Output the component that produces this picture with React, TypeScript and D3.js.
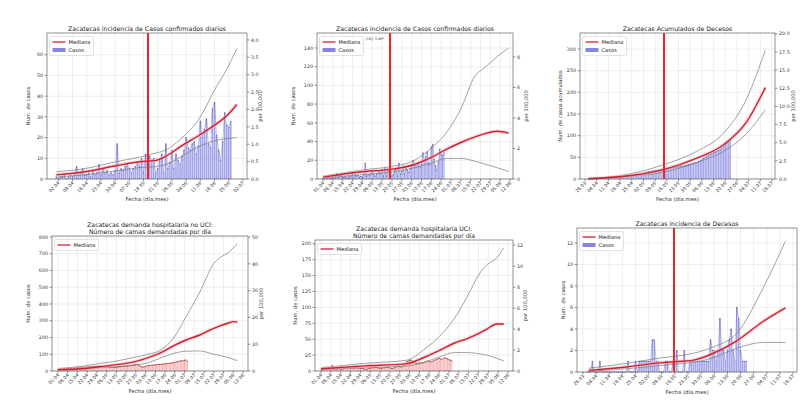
import { useEffect, useRef } from 'react';
import * as d3 from 'd3';

const parse = d3.timeParse('%Y-%m-%d');
const fmtFecha = d3.timeFormat('%d.%m');
const FUENTE = 'DejaVu Sans, sans-serif';

// Casos confirmados diarios desde 01.04
const casosInicio = '2020-04-01';
const casosDiarios = [
  1, 0, 1, 1, 2, 0, 1, 2, 1, 2,
  6, 2, 3, 5, 2, 2, 3, 1, 4, 2,
  3, 7, 2, 5, 3, 4, 2, 3, 2, 4,
  17, 3, 5, 4, 6, 7, 5, 3, 5, 6,
  8, 6, 10, 3, 12, 3, 11, 9, 10, 3,
  5, 9, 12, 3, 17, 5, 8, 14, 5, 12, 9,
  7, 11, 14, 20, 15, 14, 17, 18, 12, 16,
  28, 20, 24, 29, 17, 15, 34, 37, 21, 14,
  9, 18, 32, 26, 25, 28,
];

// Decesos desde 30.03
const decesosInicio = '2020-03-30';
const decesosAcumulados = [
  1, 1, 1, 1, 2, 2, 2, 2, 3, 3,
  3, 3, 4, 4, 4, 4, 5, 5, 5, 5,
  5, 6, 6, 6, 7, 7, 7, 8, 9, 9,
  10, 11, 12, 13, 14, 16, 17, 17, 18, 19,
  20, 20, 21, 21, 22, 23, 24, 25, 25, 26,
  26, 27, 27, 28, 28, 29, 30, 30, 31, 32,
  33, 34, 35, 36, 37, 38, 40, 42, 44, 47,
  50, 53, 55, 57, 59, 61, 62, 64, 66, 68,
  72, 75, 78, 82, 85, 88,
];
const decesosDiarios = [
  0, 0, 0, 1, 0, 0, 0, 1, 0, 0,
  0, 0, 0, 0, 0, 0, 0, 0, 0, 0,
  0, 0, 1, 0, 0, 0, 1, 0, 1, 1,
  1, 1, 1, 1, 1, 3, 3, 1, 1, 0,
  0, 0, 1, 1, 0, 0, 1, 0, 2, 0,
  0, 0, 2, 0, 0, 1, 1, 1, 1, 1,
  1, 1, 1, 1, 1, 1, 3, 2, 2, 1,
  2, 5, 2, 2, 1, 2, 3, 4, 2, 1,
  6, 5, 2, 1, 1, 1,
];

// Camas demandadas desde 01.04
const camasInicio = '2020-04-01';
const camasNoUci = [
  8, 10, 11, 12, 13, 14, 15, 15, 16, 17,
  17, 18, 18, 19, 20, 20, 21, 22, 22, 23,
  24, 24, 25, 25, 26, 27, 27, 28, 28, 29,
  30, 29, 28, 27, 26, 25, 24, 24, 23, 23,
  22, 22, 23, 24, 25, 26, 27, 28, 29, 30,
  31, 32, 33, 34, 35, 36, 38, 40, 36, 30, 26,
  24, 26, 28, 30, 32, 33, 34, 35, 36, 37,
  38, 39, 40, 40, 41, 42, 43, 44, 45, 46,
  47, 48, 50, 52, 54, 56, 58, 60, 62, 60,
  64, 66, 58,
];
const camasUci = [
  2, 2, 3, 3, 3, 4, 3, 3, 9, 4,
  3, 3, 4, 4, 3, 3, 4, 4, 5, 5,
  5, 4, 4, 5, 5, 6, 5, 5, 4, 4,
  4, 3, 3, 3, 4, 4, 5, 5, 6, 6,
  5, 5, 4, 4, 5, 5, 6, 6, 6, 5,
  4, 4, 5, 6, 7, 8, 7, 6, 8, 9, 10,
  15, 16, 17, 17, 16, 14, 13, 12, 12, 13,
  13, 12, 13, 14, 15, 16, 15, 14, 15, 16,
  17, 18, 19, 20, 19, 18, 20, 21, 20, 19,
  18, 17, 16,
];

// Proyecciones: mediana y bandas
const fechasP1 = ['2020-04-01', '2020-04-15', '2020-05-01', '2020-05-12', '2020-05-20', '2020-05-25', '2020-06-01', '2020-06-11', '2020-06-18', '2020-06-24', '2020-06-29'];
const medianaP1 = [2, 3.5, 6.5, 8.3, 9, 11, 15.5, 21.5, 26, 30.5, 36];
const superiorP1 = [3.5, 5, 8.5, 10.5, 12.5, 14, 19, 30, 43, 53, 63];
const inferiorP1 = [1, 2, 4, 5.5, 6, 7, 10.5, 16, 18.5, 19.5, 20];

const fechasP2 = ['2020-04-01', '2020-05-01', '2020-05-18', '2020-06-05', '2020-06-17', '2020-06-28', '2020-07-08', '2020-07-18', '2020-07-25', '2020-08-03', '2020-08-11'];
const medianaP2 = [2, 8, 10, 15.5, 23, 32, 39, 45, 48.5, 51, 49];
const superiorP2 = [3, 10, 13, 20, 33, 50, 75, 110, 119, 131, 140];
const inferiorP2 = [1, 5, 7, 12, 17, 22, 22, 19, 16, 12, 8];

const fechasP3 = ['2020-03-30', '2020-04-24', '2020-05-14', '2020-06-03', '2020-06-19', '2020-07-03', '2020-07-14'];
const medianaP3 = [0.5, 8, 21.5, 48, 79, 133, 211];
const superiorP3 = [1, 12, 33, 64, 106, 187, 298];
const inferiorP3 = [0.3, 6, 16, 38, 64, 106, 160];

const fechasP4 = ['2020-04-01', '2020-04-20', '2020-05-01', '2020-05-10', '2020-05-25', '2020-06-05', '2020-06-13', '2020-06-23', '2020-07-02', '2020-07-12', '2020-07-22', '2020-07-26', '2020-08-02', '2020-08-05', '2020-08-08'];
const medianaP4 = [8, 15, 25, 35, 53, 80, 105, 150, 185, 215, 255, 268, 288, 295, 292];
const superiorP4 = [15, 30, 45, 55, 80, 100, 121, 196, 323, 472, 642, 674, 710, 735, 760];
const inferiorP4 = [5, 12, 20, 25, 35, 50, 75, 105, 118, 120, 100, 94, 78, 70, 62];

const fechasP5 = ['2020-04-01', '2020-05-02', '2020-06-01', '2020-06-14', '2020-06-24', '2020-07-05', '2020-07-14', '2020-07-23', '2020-07-28', '2020-08-04', '2020-08-09'];
const medianaP5 = [3.5, 8, 11.6, 22, 32, 44, 51, 60, 66, 74, 74];
const superiorP5 = [5, 12, 17, 35, 54, 83, 117, 154, 167, 178, 194];
const inferiorP5 = [2, 5, 8, 14, 22, 29, 29, 27, 25, 20, 16];

const fechasP6 = ['2020-03-31', '2020-04-20', '2020-05-08', '2020-05-20', '2020-05-26', '2020-06-05', '2020-06-18', '2020-07-02', '2020-07-14'];
const medianaP6 = [0.15, 0.47, 0.85, 1.0, 1.1, 1.7, 2.9, 4.7, 5.97];
const superiorP6 = [0.35, 0.8, 1.3, 1.55, 1.75, 2.3, 3.6, 7.8, 12.2];
const inferiorP6 = [0.05, 0.3, 0.6, 0.8, 0.9, 1.3, 2.2, 2.75, 2.75];

type Tono = 'azul' | 'rojo';

interface Panel {
  titulo: string[];
  caja: { x0: number; x1: number; y0: number; y1: number };
  xDominio: [string, string];
  tickInicio: string;
  nTicks: number;
  yMax: number;
  yTicks: number[];
  dMax?: number;
  dTicks?: number[];
  dFormato?: string;
  etiquetaY: string;
  etiquetaYx: number;
  etiquetaDx?: number;
  barras: { inicio: string; valores: number[]; tono: Tono };
  curvas: { fechas: string[]; mediana: number[]; superior: number[]; inferior: number[] };
  corte?: string;
  leyendaCasos: boolean;
  nota?: string;
}

const PANELES: Panel[] = [
  {
    titulo: ['Zacatecas incidencia de Casos confirmados diarios'],
    caja: { x0: 47, x1: 247, y0: 33, y1: 179 },
    xDominio: ['2020-03-27T10:00', '2020-07-04T00:00'],
    tickInicio: '2020-04-02', nTicks: 14,
    yMax: 70.5, yTicks: d3.range(0, 61, 10),
    dMax: 4.2, dTicks: d3.range(0, 4.01, 0.5), dFormato: '.1f',
    etiquetaY: 'Num. de casos', etiquetaYx: 30, etiquetaDx: 262,
    barras: { inicio: casosInicio, valores: casosDiarios, tono: 'azul' },
    curvas: { fechas: fechasP1, mediana: medianaP1, superior: superiorP1, inferior: inferiorP1 },
    corte: '2020-05-16',
    leyendaCasos: true,
  },
  {
    titulo: ['Zacatecas incidencia de Casos confirmados diarios'],
    caja: { x0: 317, x1: 513, y0: 33, y1: 179 },
    xDominio: ['2020-03-27T17:00', '2020-08-14T02:00'],
    tickInicio: '2020-04-01', nTicks: 20,
    yMax: 156, yTicks: d3.range(0, 141, 20),
    dMax: 9.57, dTicks: d3.range(0, 9, 2), dFormato: 'd',
    etiquetaY: 'Num. de casos', etiquetaYx: 295, etiquetaDx: 528,
    barras: { inicio: casosInicio, valores: casosDiarios, tono: 'azul' },
    curvas: { fechas: fechasP2, mediana: medianaP2, superior: superiorP2, inferior: inferiorP2 },
    corte: '2020-05-18',
    leyendaCasos: true,
    nota: '[16]: 3.40*',
  },
  {
    titulo: ['Zacatecas Acumulados de Decesos'],
    caja: { x0: 580, x1: 775, y0: 33, y1: 179 },
    xDominio: ['2020-03-25T00:00', '2020-07-19T19:00'],
    tickInicio: '2020-03-28', nTicks: 17,
    yMax: 337, yTicks: d3.range(0, 301, 50),
    dMax: 20.1, dTicks: d3.range(0, 20.01, 2.5), dFormato: '.1f',
    etiquetaY: 'Num. de casos acumulados', etiquetaYx: 562, etiquetaDx: 795,
    barras: { inicio: decesosInicio, valores: decesosAcumulados, tono: 'azul' },
    curvas: { fechas: fechasP3, mediana: medianaP3, superior: superiorP3, inferior: inferiorP3 },
    corte: '2020-05-14',
    leyendaCasos: true,
  },
  {
    titulo: ['Zacatecas demanda hospitalaria no UCI:', 'Número de camas demandadas por día'],
    caja: { x0: 52, x1: 248, y0: 236, y1: 371 },
    xDominio: ['2020-03-27T17:00', '2020-08-15T14:00'],
    tickInicio: '2020-04-01', nTicks: 20,
    yMax: 806, yTicks: d3.range(0, 801, 100),
    dMax: 50.4, dTicks: d3.range(0, 51, 10), dFormato: 'd',
    etiquetaY: 'Num.  de casos', etiquetaYx: 30, etiquetaDx: 263,
    barras: { inicio: camasInicio, valores: camasNoUci, tono: 'rojo' },
    curvas: { fechas: fechasP4, mediana: medianaP4, superior: superiorP4, inferior: inferiorP4 },
    leyendaCasos: false,
  },
  {
    titulo: ['Zacatecas demanda hospitalaria UCI:', 'Número de camas demandadas por día'],
    caja: { x0: 315, x1: 513, y0: 240, y1: 371 },
    xDominio: ['2020-03-27T17:00', '2020-08-15T13:00'],
    tickInicio: '2020-04-01', nTicks: 20,
    yMax: 206, yTicks: d3.range(0, 201, 25),
    dMax: 12.5, dTicks: d3.range(0, 13, 2), dFormato: 'd',
    etiquetaY: 'Num.  de casos', etiquetaYx: 297, etiquetaDx: 527,
    barras: { inicio: camasInicio, valores: camasUci, tono: 'rojo' },
    curvas: { fechas: fechasP5, mediana: medianaP5, superior: superiorP5, inferior: inferiorP5 },
    leyendaCasos: false,
  },
  {
    titulo: ['Zacatecas incidencia de Decesos'],
    caja: { x0: 577, x1: 797, y0: 228, y1: 372 },
    xDominio: ['2020-03-24T19:00', '2020-07-20T03:00'],
    tickInicio: '2020-03-28', nTicks: 17,
    yMax: 13.4, yTicks: d3.range(0, 13, 2),
    etiquetaY: 'Num. de casos', etiquetaYx: 565,
    barras: { inicio: decesosInicio, valores: decesosDiarios, tono: 'azul' },
    curvas: { fechas: fechasP6, mediana: medianaP6, superior: superiorP6, inferior: inferiorP6 },
    corte: '2020-05-15',
    leyendaCasos: true,
  },
];

const TONOS = {
  azul: { barra: '#6e6ee0', opacidad: 0.62, linea: '#3a3a9a' },
  rojo: { barra: '#e85050', opacidad: 0.4, linea: '#9a2020' },
};

function dibujarPanel(svg: d3.Selection<SVGSVGElement, unknown, null, undefined>, p: Panel) {
  const { x0, x1, y0, y1 } = p.caja;
  const g = svg.append('g');

  const x = d3.scaleTime()
    .domain(p.xDominio.map(s => d3.isoParse(s) as Date))
    .range([x0, x1]);
  const y = d3.scaleLinear().domain([0, p.yMax]).range([y1, y0]);
  const ticksX = d3.range(p.nTicks).map(i => d3.timeDay.offset(parse(p.tickInicio)!, 7 * i));

  // Grid
  ticksX.forEach(t => {
    g.append('line')
      .attr('x1', x(t)).attr('x2', x(t)).attr('y1', y0).attr('y2', y1)
      .attr('stroke', '#e2e2e2').attr('stroke-width', 0.6);
  });
  p.yTicks.forEach(v => {
    g.append('line')
      .attr('x1', x0).attr('x2', x1).attr('y1', y(v)).attr('y2', y(v))
      .attr('stroke', '#e2e2e2').attr('stroke-width', 0.6);
  });

  // Barras
  const tono = TONOS[p.barras.tono];
  const inicio = parse(p.barras.inicio)!;
  const fechas = p.barras.valores.map((_, i) => d3.timeDay.offset(inicio, i));
  const ancho = (x(d3.timeDay.offset(inicio, 1)) - x(inicio)) * 0.8;
  g.append('g')
    .selectAll('rect')
    .data(p.barras.valores)
    .join('rect')
    .attr('x', (_, i) => x(fechas[i]) - ancho / 2)
    .attr('y', d => y(d))
    .attr('width', ancho)
    .attr('height', d => y1 - y(d))
    .attr('fill', tono.barra)
    .attr('fill-opacity', tono.opacidad);

  // Línea de casos sobre las barras
  const lineaCasos = d3.line<number>()
    .x((_, i) => x(fechas[i]))
    .y(d => y(d));
  g.append('path')
    .datum(p.barras.valores)
    .attr('fill', 'none')
    .attr('stroke', tono.linea)
    .attr('stroke-opacity', 0.55)
    .attr('stroke-width', 0.5)
    .attr('d', lineaCasos);
  g.append('g')
    .selectAll('circle')
    .data(p.barras.valores)
    .join('circle')
    .attr('cx', (_, i) => x(fechas[i]))
    .attr('cy', d => y(d))
    .attr('r', 0.6)
    .attr('fill', tono.linea)
    .attr('fill-opacity', 0.7);

  // Curvas de proyección
  const fechasCurva = p.curvas.fechas.map(s => parse(s)!);
  const curva = d3.line<number>()
    .x((_, i) => x(fechasCurva[i]))
    .y(d => y(d))
    .curve(d3.curveMonotoneX);
  [p.curvas.superior, p.curvas.inferior].forEach(serie => {
    g.append('path')
      .datum(serie)
      .attr('fill', 'none')
      .attr('stroke', '#7a7a7a')
      .attr('stroke-width', 0.7)
      .attr('d', curva);
  });
  g.append('path')
    .datum(p.curvas.mediana)
    .attr('fill', 'none')
    .attr('stroke', '#f5b5b5')
    .attr('stroke-opacity', 0.5)
    .attr('stroke-width', 3.5)
    .attr('d', curva);
  g.append('path')
    .datum(p.curvas.mediana)
    .attr('fill', 'none')
    .attr('stroke', '#cf1f35')
    .attr('stroke-width', 1.4)
    .attr('d', curva);

  // Marco
  g.append('rect')
    .attr('x', x0).attr('y', y0).attr('width', x1 - x0).attr('height', y1 - y0)
    .attr('fill', 'none').attr('stroke', '#4a4a4a').attr('stroke-width', 0.6);

  // Línea vertical de corte (alineada a píxel par para que se vea roja)
  if (p.corte) {
    const xc = 2 * Math.round(x(parse(p.corte)!) / 2);
    g.append('line')
      .attr('x1', xc).attr('x2', xc).attr('y1', y0).attr('y2', y1)
      .attr('stroke', '#e8262b').attr('stroke-width', 2)
      .attr('shape-rendering', 'crispEdges');
  }

  // Eje X
  ticksX.forEach(t => {
    const xt = x(t);
    g.append('line')
      .attr('x1', xt).attr('x2', xt).attr('y1', y1).attr('y2', y1 + 2.5)
      .attr('stroke', '#4a4a4a').attr('stroke-width', 0.6);
    g.append('text')
      .attr('transform', `translate(${xt + 1.5},${y1 + 4.5}) rotate(-45)`)
      .attr('text-anchor', 'end')
      .attr('font-family', FUENTE)
      .attr('font-size', 4.6)
      .attr('fill', '#333')
      .text(fmtFecha(t));
  });
  g.append('text')
    .attr('x', (x0 + x1) / 2)
    .attr('y', y1 + 21.5)
    .attr('text-anchor', 'middle')
    .attr('font-family', FUENTE)
    .attr('font-size', 5.4)
    .attr('fill', '#333')
    .text('Fecha (día.mes)');

  // Eje Y izquierdo
  p.yTicks.forEach(v => {
    g.append('line')
      .attr('x1', x0 - 2.5).attr('x2', x0).attr('y1', y(v)).attr('y2', y(v))
      .attr('stroke', '#4a4a4a').attr('stroke-width', 0.6);
    g.append('text')
      .attr('x', x0 - 4)
      .attr('y', y(v))
      .attr('dy', '0.35em')
      .attr('text-anchor', 'end')
      .attr('font-family', FUENTE)
      .attr('font-size', 4.8)
      .attr('fill', '#333')
      .text(v);
  });
  g.append('text')
    .attr('transform', `translate(${p.etiquetaYx},${(y0 + y1) / 2}) rotate(-90)`)
    .attr('text-anchor', 'middle')
    .attr('font-family', FUENTE)
    .attr('font-size', 5.2)
    .attr('fill', '#333')
    .text(p.etiquetaY);

  // Eje derecho: por 100,000
  if (p.dMax && p.dTicks && p.etiquetaDx) {
    const yd = d3.scaleLinear().domain([0, p.dMax]).range([y1, y0]);
    const formato = d3.format(p.dFormato ?? 'd');
    p.dTicks.forEach(v => {
      g.append('line')
        .attr('x1', x1).attr('x2', x1 + 2.5).attr('y1', yd(v)).attr('y2', yd(v))
        .attr('stroke', '#4a4a4a').attr('stroke-width', 0.6);
      g.append('text')
        .attr('x', x1 + 4)
        .attr('y', yd(v))
        .attr('dy', '0.35em')
        .attr('font-family', FUENTE)
        .attr('font-size', 4.8)
        .attr('fill', '#333')
        .text(formato(v));
    });
    g.append('text')
      .attr('transform', `translate(${p.etiquetaDx},${(y0 + y1) / 2}) rotate(-90)`)
      .attr('text-anchor', 'middle')
      .attr('font-family', FUENTE)
      .attr('font-size', 5.2)
      .attr('fill', '#333')
      .text('per 100,000');
  }

  // Título
  p.titulo.forEach((linea, i) => {
    g.append('text')
      .attr('x', (x0 + x1) / 2)
      .attr('y', y0 - 2 - (p.titulo.length - 1 - i) * 7)
      .attr('text-anchor', 'middle')
      .attr('font-family', FUENTE)
      .attr('font-size', 6.2)
      .attr('fill', '#222')
      .text(linea);
  });

  // Leyenda
  const lx = x0 + 2.5;
  const ly = y0 + 3.5;
  const alto = p.leyendaCasos ? 19 : 11;
  g.append('rect')
    .attr('x', lx).attr('y', ly).attr('width', 44).attr('height', alto)
    .attr('rx', 1.5)
    .attr('fill', '#fff').attr('fill-opacity', 0.85)
    .attr('stroke', '#cfcfcf').attr('stroke-width', 0.6);
  g.append('line')
    .attr('x1', lx + 3).attr('x2', lx + 16).attr('y1', ly + 5.5).attr('y2', ly + 5.5)
    .attr('stroke', '#cf1f35').attr('stroke-width', 1.3);
  g.append('text')
    .attr('x', lx + 19).attr('y', ly + 5.5).attr('dy', '0.35em')
    .attr('font-family', FUENTE).attr('font-size', 5.2).attr('fill', '#222')
    .text('Mediana');
  if (p.leyendaCasos) {
    g.append('rect')
      .attr('x', lx + 3).attr('y', ly + 11.5).attr('width', 13).attr('height', 4)
      .attr('fill', tono.barra).attr('fill-opacity', 0.85);
    g.append('text')
      .attr('x', lx + 19).attr('y', ly + 13.5).attr('dy', '0.35em')
      .attr('font-family', FUENTE).attr('font-size', 5.2).attr('fill', '#222')
      .text('Casos');
  }
  if (p.nota) {
    g.append('text')
      .attr('x', lx + 46).attr('y', ly + 3.5)
      .attr('font-family', FUENTE).attr('font-size', 3.4).attr('fill', '#333')
      .text(p.nota);
  }
}

export default function App() {
  const svgRef = useRef<SVGSVGElement>(null);

  useEffect(() => {
    if (!svgRef.current) return;
    const svg = d3.select(svgRef.current);
    svg.selectAll('*').remove();
    svg.append('rect').attr('width', 800).attr('height', 400).attr('fill', '#fff');
    PANELES.forEach(p => dibujarPanel(svg, p));
  }, []);

  return (
    <svg
      ref={svgRef}
      width={800}
      height={400}
      style={{ position: 'absolute', left: 0, top: 0, background: '#fff' }}
    />
  );
}
